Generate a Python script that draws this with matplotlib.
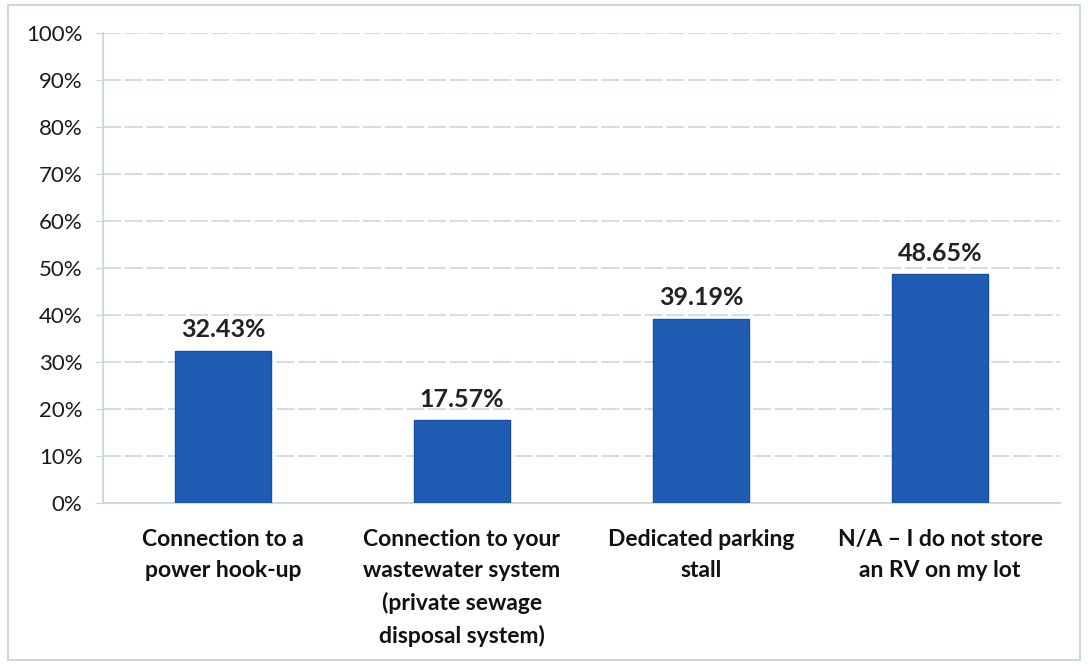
import matplotlib
matplotlib.use("Agg")
import matplotlib.pyplot as plt
from matplotlib.patches import Rectangle

# survey answers: RV storage facilities on the lot
categories = [
    "Connection to a\npower hook-up",
    "Connection to your\nwastewater system\n(private sewage\ndisposal system)",
    "Dedicated parking\nstall",
    "N/A \u2013 I do not store\nan RV on my lot",
]
shares = [32.43, 17.57, 39.19, 48.65]
yticks = list(range(0, 101, 10))

plt.rcParams["font.family"] = ["Lato", "DejaVu Sans"]

fig = plt.figure(figsize=(10.88, 6.66), dpi=100)
ax = fig.add_axes([0.095, 0.245, 0.879, 0.705])

# thin frame around the whole chart
fig.patches.append(Rectangle((0.007, 0.009), 0.986, 0.983, transform=fig.transFigure,
                             fill=False, edgecolor="#c9d7e3", linewidth=1.5))

x = range(len(categories))
ax.bar(x, shares, width=0.4, color="#1f5cb4", edgecolor="#1a4f9c", linewidth=1, zorder=3)

for xi, v in zip(x, shares):
    ax.text(xi, v + 2.0, "%.2f%%" % v, ha="center", va="bottom",
            fontsize=18, fontweight="bold", color="#222222")

ax.set_xlim(-0.5, len(categories) - 0.5)
ax.set_ylim(0, 100)
ax.set_yticks(yticks)
ax.set_yticklabels(["%d%%" % t for t in yticks], fontsize=16, color="#1a1a1a")
ax.set_xticks(list(x))
ax.set_xticklabels(categories, fontsize=16.5, fontweight="bold", color="#111111",
                   va="top", linespacing=1.6)
ax.tick_params(axis="x", length=0, pad=19)
ax.tick_params(axis="y", length=6, color="#c9d7e3", pad=9)

ax.grid(axis="y", color="#cddae5", linewidth=1.3, linestyle=(0, (10, 2)), zorder=0)
for side in ["top", "right"]:
    ax.spines[side].set_visible(False)
ax.spines["left"].set_color("#c9d7e3")
ax.spines["left"].set_linewidth(1.3)
ax.spines["bottom"].set_color("#c9d7e3")
ax.spines["bottom"].set_linewidth(1.3)

fig.savefig("out.png", dpi=100)
